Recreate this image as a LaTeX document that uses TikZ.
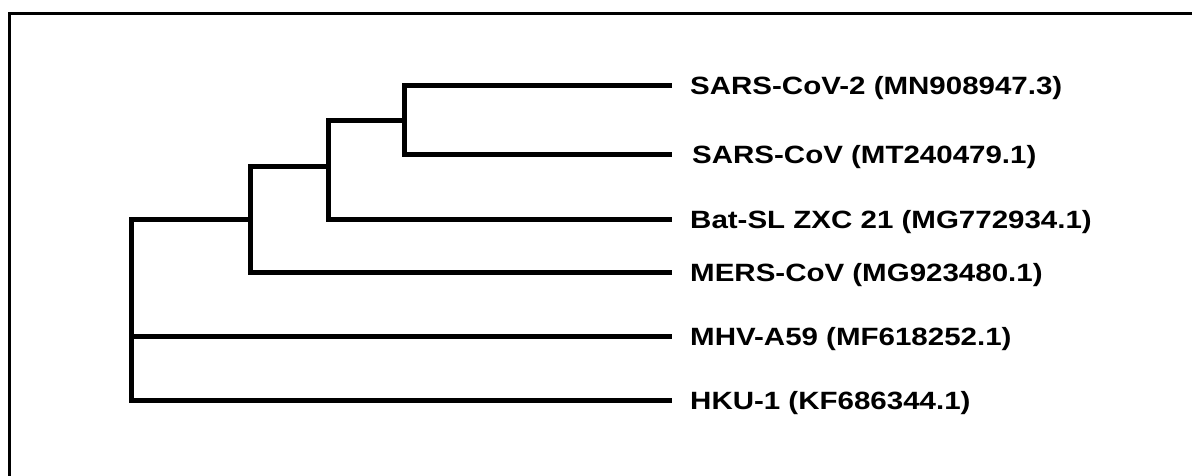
\documentclass[tikz,border=0pt]{standalone}
\usepackage{fontspec}
\newfontfamily\lblfont{Liberation Sans}[FakeStretch=1.18]
\begin{document}
\begin{tikzpicture}[x=1pt,y=-1pt,
  branch/.style={line width=5pt, line join=miter, line cap=butt},
  frame/.style={line width=3pt},
  lbl/.style={anchor=base west, inner sep=0pt, font=\lblfont\bfseries\fontsize{25}{30}\selectfont}]
\useasboundingbox (0,0) rectangle (1192,476);
\draw[frame] (9.5,478) -- (9.5,13.5) -- (1194,13.5);
% leaf tips
\coordinate (tS2) at (672,86);
\coordinate (tS1) at (672,155);
\coordinate (tBat) at (672,219);
\coordinate (tMERS) at (672,272);
\coordinate (tMHV) at (672,336);
\coordinate (tHKU) at (672,400);
% internal nodes
\coordinate (nA) at (404,120.5);
\coordinate (nB) at (328,167);
\coordinate (nC) at (250,219.5);
\coordinate (nR) at (131,336);
% labels
\node[lbl] (s2) at (690,95) {SARS-CoV-2 (MN908947.3)};
\node[lbl] (s1) at (692,164) {SARS-CoV (MT240479.1)};
\node[lbl] (bat) at (690,228) {Bat-SL ZXC 21 (MG772934.1)};
\node[lbl] (mers) at (690,281) {MERS-CoV (MG923480.1)};
\node[lbl] (mhv) at (690,345) {MHV-A59 (MF618252.1)};
\node[lbl] (hku) at (690,409) {HKU-1 (KF686344.1)};
% branches
\draw[branch] (tS2) -| (nA) |- (tS1);
\draw[branch] (nA) -| (nB) |- (tBat);
\draw[branch] (nB) -| (nC) |- (tMERS);
\draw[branch] (nC) -| (nR) |- (tHKU);
\draw[branch] (nR) -- (tMHV);
\end{tikzpicture}
\end{document}
